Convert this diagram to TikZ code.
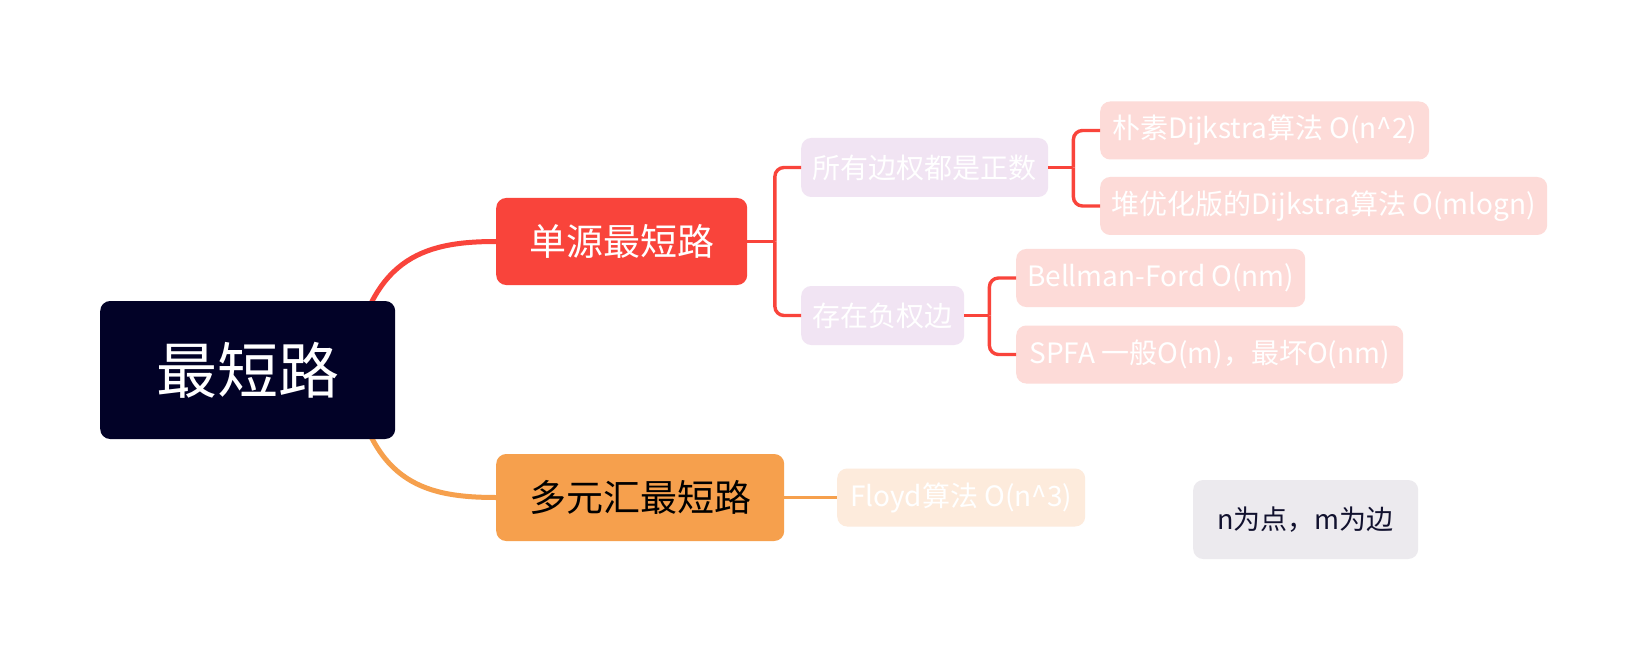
\documentclass[tikz,border=0pt]{standalone}
\usepackage{fontspec}
\setmainfont{Noto Sans CJK SC}
\usetikzlibrary{calc}
\definecolor{rootc}{HTML}{020227}
\definecolor{redc}{HTML}{F9443B}
\definecolor{orangec}{HTML}{F6A04D}
\definecolor{lavc}{HTML}{F1E4F3}
\definecolor{pinkc}{HTML}{FDDBD8}
\definecolor{peachc}{HTML}{FDEBDC}
\definecolor{notec}{HTML}{ECEAEE}
\definecolor{notetext}{HTML}{11112E}
\pgfdeclarelayer{bg}
\pgfsetlayers{bg,main}
\newcommand{\fs}[1]{\fontsize{#1}{#1}\selectfont}
\begin{document}
\begin{tikzpicture}[x=1pt,y=-1pt,
  box/.style={rounded corners=10pt, inner sep=0pt, align=center, anchor=west},
  rootbox/.style={box, fill=rootc, text=white, font=\fs{61}},
  lvlone/.style={box, font=\fs{37}, minimum height=87},
  lvltwo/.style={box, fill=lavc, text=white, font=\fs{28}, minimum height=59},
  leafbox/.style={box, fill=pinkc, text=white, font=\fs{28}, minimum height=58},
  curvered/.style={draw=redc, line width=5pt},
  curveorange/.style={draw=orangec, line width=5pt},
  bracket/.style={draw=redc, line width=3.4pt, rounded corners=9pt},
]
\useasboundingbox (0,0) rectangle (1648,660);
\begin{pgfonlayer}{bg}
\fill[white] (0,0) rectangle (1648,660);
\end{pgfonlayer}

\node[rootbox, minimum width=295, minimum height=138] (root) at (100,370) {最短路};
\node[lvlone, fill=redc, text=white, minimum width=251] (s1) at (496,241.5) {单源最短路};
\node[lvlone, fill=orangec, text=black, minimum width=288] (s2) at (496,497.5) {多元汇最短路};

\node[lvltwo, minimum width=247] (a1) at (801,167.5) {所有边权都是正数};
\node[lvltwo, minimum width=163] (a2) at (801,315.5) {存在负权边};

\node[leafbox, minimum width=329] (b1) at (1100,130.5) {朴素Dijkstra算法 O(n\textasciicircum 2)};
\node[leafbox, minimum width=447] (b2) at (1100,206) {堆优化版的Dijkstra算法 O(mlogn)};
\node[leafbox, minimum width=289] (b3) at (1016,278) {Bellman-Ford O(nm)};
\node[leafbox, minimum width=387] (b4) at (1016,354.5) {SPFA 一般O(m)，最坏O(nm)};

\node[leafbox, fill=peachc, minimum width=248] (c1) at (837,497.5) {Floyd算法 O(n\textasciicircum 3)};

\node[box, fill=notec, text=notetext, font=\fs{27}, minimum width=225, minimum height=79] (note) at (1193,519.5) {n为点，m为边};

\begin{pgfonlayer}{bg}
\draw[curvered] ([xshift=-45pt]root.east) .. controls +(20,-110) and +(-76,0) .. (s1.west);
\draw[curveorange] ([xshift=-45pt]root.east) .. controls +(20,110) and +(-76,0) .. (s2.west);
\end{pgfonlayer}

\draw[bracket] (s1.east) -- ++(27.5,0) coordinate (j1);
\draw[bracket] (j1) |- (a1.west);
\draw[bracket] (j1) |- (a2.west);

\draw[bracket] (a1.east) -- ++(25,0) coordinate (j2);
\draw[bracket] (j2) |- (b1.west);
\draw[bracket] (j2) |- (b2.west);

\draw[bracket] (a2.east) -- ++(25,0) coordinate (j3);
\draw[bracket] (j3) |- (b3.west);
\draw[bracket] (j3) |- (b4.west);

\draw[curveorange, line width=3.4pt] (s2.east) -- (c1.west);
\end{tikzpicture}
\end{document}
